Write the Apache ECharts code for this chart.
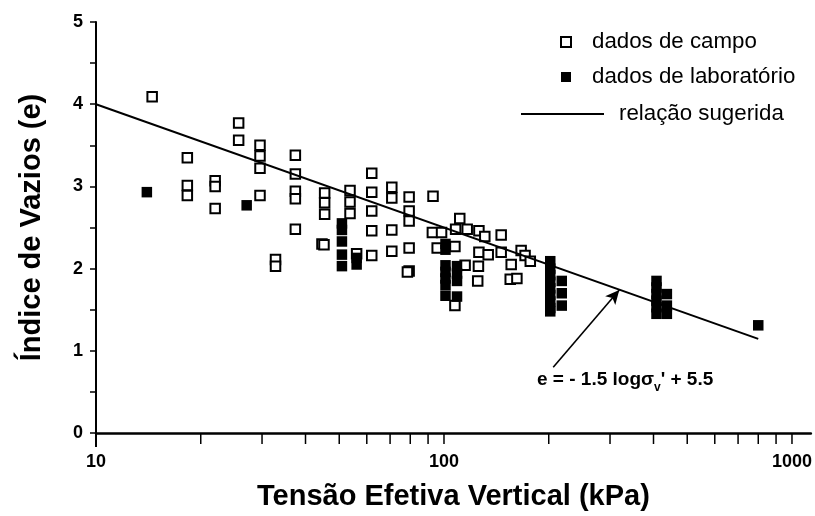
<!DOCTYPE html>
<html>
<head>
<meta charset="utf-8">
<title>Índice de vazios x tensão efetiva vertical</title>
<script src="https://cdn.jsdelivr.net/npm/echarts@6/dist/echarts.min.js"></script>
<style>
  html, body { margin: 0; padding: 0; background: #fff; }
  #chart { width: 815px; height: 516px; }
</style>
</head>
<body>
<div id="chart"></div>
<script>
// Field measurements: [tensão efetiva vertical (kPa), índice de vazios]
const fieldData = [
  [14.5, 4.09],
  [18.3, 3.35], [18.3, 3.01], [18.3, 2.89],
  [22.0, 3.07], [22.0, 3.00], [22.0, 2.73],
  [25.7, 3.77], [25.7, 3.56],
  [29.6, 3.50], [29.6, 3.37], [29.6, 3.22], [29.6, 2.89],
  [32.8, 2.11], [32.8, 2.03],
  [37.4, 3.38], [37.4, 3.15], [37.4, 2.94], [37.4, 2.85], [37.4, 2.48],
  [45.4, 2.92], [45.4, 2.80], [45.4, 2.66], [44.6, 2.30], [45.2, 2.29],
  [53.7, 2.95], [53.7, 2.81], [53.7, 2.67], [56.1, 2.18],
  [62.0, 3.16], [62.0, 2.93], [62.0, 2.70], [62.0, 2.46], [62.0, 2.16],
  [70.8, 2.99], [70.8, 2.86], [70.8, 2.47], [70.8, 2.21],
  [79.4, 2.87], [79.4, 2.70], [79.4, 2.58], [79.4, 2.25], [79.4, 1.97], [78.5, 1.96],
  [93.0, 2.88], [92.6, 2.44], [98.4, 2.44], [95.6, 2.25],
  [107.5, 2.27], [111, 2.61], [108, 2.48], [116.6, 2.48], [126, 2.46], [131, 2.39],
  [146, 2.41], [126, 2.20], [134, 2.17], [146, 2.20],
  [115, 2.04], [125.6, 2.03], [156, 2.05], [125, 1.85], [155, 1.87], [162, 1.88],
  [166.6, 2.22], [171, 2.16], [177, 2.09], [107.5, 1.55]
];

// Laboratory tests: [tensão efetiva vertical (kPa), índice de vazios]
const labData = [
  [14.0, 2.93], [27.1, 2.77],
  [50.9, 2.55], [50.9, 2.47], [50.9, 2.33], [50.9, 2.17], [50.9, 2.03],
  [56.1, 2.13], [56.1, 2.05],
  [101, 2.30], [101, 2.23], [101, 2.04], [101, 1.96], [101, 1.88], [101, 1.80], [101, 1.67],
  [109, 2.03], [109, 1.94], [109, 1.85], [109, 1.66],
  [202, 2.09], [202, 2.00], [202, 1.92], [202, 1.84], [202, 1.76], [202, 1.68], [202, 1.60], [202, 1.52], [202, 1.48],
  [218, 1.85], [218, 1.70], [218, 1.55],
  [408, 1.85], [408, 1.77], [408, 1.69], [408, 1.61], [408, 1.53], [408, 1.45],
  [437, 1.69], [437, 1.55], [437, 1.45],
  [800, 1.31]
];

// Suggested relation e = -1.5 log(σv') + 5.5, end points
const relationLine = [[10, 4.0], [800, 1.145]];

// Arrow pointing from the equation to the line
const arrowFrom = [206, 0.80];
const arrowTo = [319, 1.74];

// Axis ticks and labels
const xMajorLabels = [10, 100, 1000];
const xTickValues = [10, 20, 30, 40, 50, 60, 70, 80, 90, 100,
                     200, 300, 400, 500, 600, 700, 800, 900, 1000];
const yTickLabels = [0, 1, 2, 3, 4, 5];

const FONT = '"Liberation Sans", Arial, Helvetica, sans-serif';

const chart = echarts.init(document.getElementById('chart'), null, { renderer: 'canvas' });

chart.setOption({
  animation: false,
  backgroundColor: '#fff',
  color: ['#000'],
  grid: { left: 96, right: 2, top: 22, bottom: 82, containLabel: false },
  legend: [
    {
      data: ['dados de campo', 'dados de laboratório'],
      orient: 'vertical',
      left: 555, top: 26,
      itemWidth: 10, itemHeight: 10, itemGap: 13,
      selectedMode: false,
      textStyle: { fontFamily: FONT, fontSize: 22.3, color: '#000', padding: [0, 0, 0, 16] }
    },
    {
      data: ['relação sugerida'],
      left: 515, top: 98,
      itemWidth: 83, itemHeight: 14,
      selectedMode: false,
      itemStyle: { opacity: 0 },
      textStyle: { fontFamily: FONT, fontSize: 22.3, color: '#000', padding: [0, 0, 0, 10] }
    }
  ],
  xAxis: {
    type: 'log',
    logBase: 10,
    min: 10,
    max: 1133,
    name: 'Tensão Efetiva Vertical (kPa)',
    nameLocation: 'middle',
    nameGap: 49,
    nameTextStyle: { fontFamily: FONT, fontSize: 29, fontWeight: 'bold', color: '#000' },
    axisLine: { show: true, onZero: false, lineStyle: { color: '#000', width: 2.5 } },
    axisTick: { show: false },
    splitLine: { show: false },
    axisLabel: {
      margin: 20,
      fontFamily: FONT, fontSize: 18, fontWeight: 'bold', color: '#000',
      formatter: v => xMajorLabels.some(m => Math.abs(m - v) < 1e-6 * m) ? String(Math.round(v)) : ''
    }
  },
  yAxis: {
    type: 'value',
    min: 0, max: 5, interval: 0.5,
    name: 'Índice de Vazios (e)',
    nameLocation: 'middle',
    nameGap: 50,
    nameTextStyle: { fontFamily: FONT, fontSize: 29, fontWeight: 'bold', color: '#000' },
    axisLine: { show: true, lineStyle: { color: '#000', width: 2 } },
    axisTick: { show: true, length: 6, lineStyle: { color: '#000', width: 1.5 } },
    splitLine: { show: false },
    axisLabel: {
      margin: 13,
      fontFamily: FONT, fontSize: 18, fontWeight: 'bold', color: '#000',
      formatter: v => yTickLabels.includes(v) ? String(v) : ''
    }
  },
  series: [
    {
      name: 'dados de campo',
      type: 'scatter',
      data: fieldData,
      symbol: 'rect',
      symbolSize: 9.5,
      itemStyle: { color: '#fff', borderColor: '#000', borderWidth: 2, opacity: 1 },
      z: 3
    },
    {
      name: 'dados de laboratório',
      type: 'scatter',
      data: labData,
      symbol: 'rect',
      symbolSize: 10.5,
      itemStyle: { color: '#000', opacity: 1 },
      z: 4
    },
    {
      name: 'relação sugerida',
      type: 'line',
      data: relationLine,
      symbol: 'none',
      itemStyle: { color: '#000' },
      lineStyle: { color: '#000', width: 2 },
      z: 5,
      markLine: {
        silent: true,
        symbol: ['none', 'arrow'],
        symbolSize: [10, 14],
        lineStyle: { color: '#000', width: 1.6, type: 'solid' },
        label: { show: false },
        data: [[{ coord: arrowFrom }, { coord: arrowTo }]]
      }
    },
    {
      // minor and major tick marks along the log axis
      type: 'custom',
      coordinateSystem: 'cartesian2d',
      data: xTickValues.map(v => [v, 0]),
      clip: false,
      silent: true,
      z: 2,
      renderItem(params, api) {
        const p = api.coord([api.value(0), 0]);
        const len = api.value(0) === 10 ? 14 : 11;
        return {
          type: 'line',
          shape: { x1: p[0], y1: p[1], x2: p[0], y2: p[1] + len },
          style: { stroke: '#000', lineWidth: api.value(0) === 10 ? 2 : 1.5 }
        };
      }
    }
  ],
  graphic: [
    {
      type: 'text',
      left: 537,
      top: 370,
      style: {
        text: "{a|e = - 1.5 logσ}{s|v}{a|' + 5.5}",
        fill: '#000',
        rich: {
          a: { fontFamily: FONT, fontSize: 19, fontWeight: 'bold', fill: '#000', lineHeight: 24, verticalAlign: 'bottom' },
          s: { fontFamily: FONT, fontSize: 12, fontWeight: 'bold', fill: '#000', lineHeight: 24, verticalAlign: 'bottom', padding: [0, 0, -5, 0] }
        }
      }
    }
  ]
});
</script>
</body>
</html>
